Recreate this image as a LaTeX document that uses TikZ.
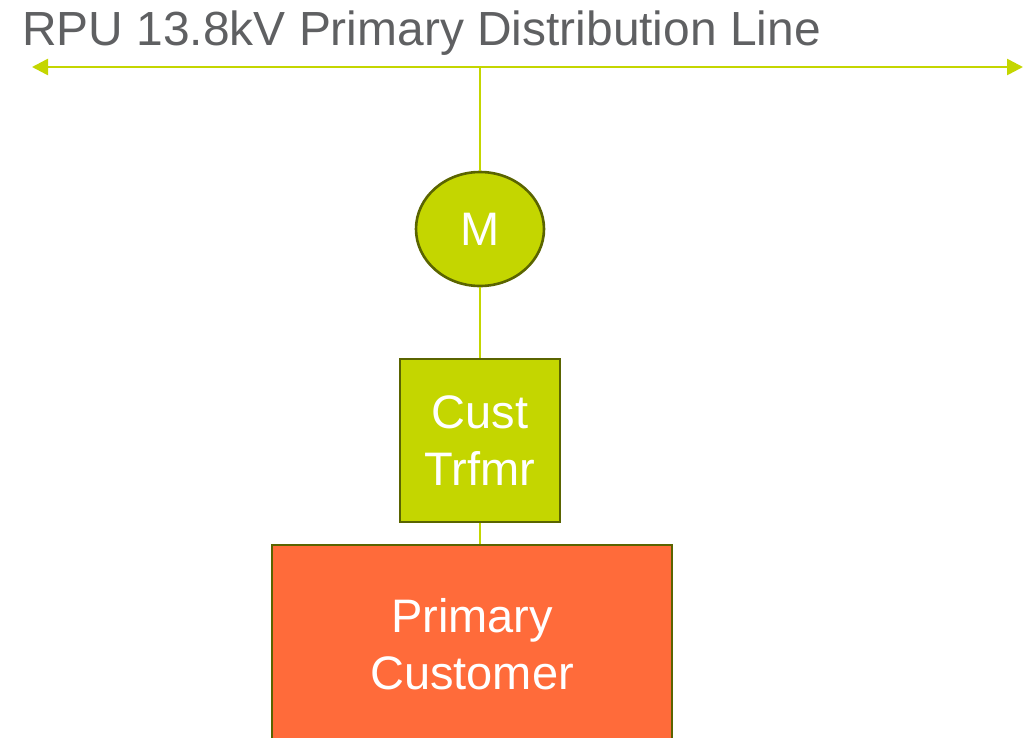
\documentclass[tikz,border=0pt]{standalone}
\usepackage{fontspec}
\setmainfont{Liberation Sans}
\usetikzlibrary{arrows.meta,shapes.geometric}
\definecolor{linegreen}{HTML}{C4D600}
\definecolor{edgeolive}{HTML}{5A6400}
\definecolor{custorange}{HTML}{FF6B3A}
\definecolor{titlegray}{HTML}{5F6062}
\tikzset{
  feeder/.style={draw=linegreen,line width=2.6pt,{Triangle[length=16pt,width=16pt]}-{Triangle[length=16pt,width=16pt]}},
  tap/.style={draw=linegreen,line width=1.6pt},
  meterbox/.style={ellipse,draw=edgeolive,fill=linegreen,line width=2.6pt,minimum width=128pt,minimum height=114pt,inner sep=0pt,text=white,font=\fontsize{47}{50}\selectfont},
  trfmrbox/.style={rectangle,draw=edgeolive,fill=linegreen,line width=2.6pt,minimum width=160pt,minimum height=163pt,inner sep=0pt,text=white,align=center,font=\fontsize{47}{57}\selectfont},
  custbox/.style={rectangle,draw=edgeolive,fill=custorange,line width=2.6pt,minimum width=400pt,minimum height=240pt,inner sep=0pt},
}
\begin{document}
\begin{tikzpicture}[x=1pt,y=-1pt]
\useasboundingbox (0,0) rectangle (1024,737);
\begin{scope}
\clip (0,0) rectangle (1024,737);
% title
\node[anchor=base west,inner sep=0pt,text=titlegray,font=\fontsize{47.9}{50}\selectfont] (title) at (22,45) {RPU 13.8kV Primary Distribution Line};
% distribution line
\coordinate (west) at (32,67);
\coordinate (east) at (1023,67);
\coordinate (tapL) at (480,67);
\draw[feeder] (west) -- (east);
% equipment
\node[meterbox] (meter) at (480,229) {M};
\node[trfmrbox] (trfmr) at (480,440.5) {Cust\\Trfmr};
\node[custbox] (cust) at (472,665) {};
\node[text=white,align=center,font=\fontsize{47}{57}\selectfont] (custtext) at (472,644) {Primary\\Customer};
% connectors
\draw[tap] (tapL) -- (meter.north);
\draw[tap] (meter.south) -- (trfmr.north);
\draw[tap] (trfmr.south) -- (cust.north -| trfmr.south);
\end{scope}
\end{tikzpicture}
\end{document}
